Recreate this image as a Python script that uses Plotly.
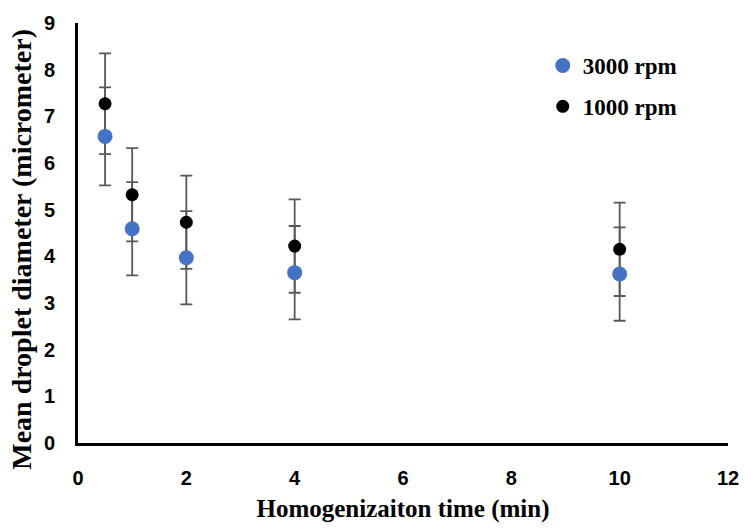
import plotly.graph_objects as go

time_min = [0.5, 1, 2, 4, 10]
d_3000 = [6.57, 4.59, 3.97, 3.65, 3.62]
err_3000 = [1.05, 1.0, 1.0, 1.0, 1.0]
d_1000 = [7.27, 5.32, 4.73, 4.22, 4.15]
err_1000 = [1.08, 1.0, 1.0, 1.0, 1.0]
x_ticks = [0, 2, 4, 6, 8, 10, 12]
y_ticks = [0, 1, 2, 3, 4, 5, 6, 7, 8, 9]

err_style = dict(type="data", visible=True, color="#595959", thickness=1.8, width=6)

fig = go.Figure()
# error bars first (under all markers)
for vals, errs in [(d_1000, err_1000), (d_3000, err_3000)]:
    fig.add_trace(go.Scatter(
        x=time_min, y=vals, mode="markers",
        marker=dict(color="rgba(0,0,0,0)", size=1),
        error_y=dict(array=errs, **err_style),
        showlegend=False, hoverinfo="skip"))

fig.add_trace(go.Scatter(
    x=time_min, y=d_1000, mode="markers", name="<b>1000 rpm</b>",
    marker=dict(color="#000000", size=13), legendrank=2, legendgroup="b"))
fig.add_trace(go.Scatter(
    x=time_min, y=d_3000, mode="markers", name="<b>3000 rpm</b>",
    marker=dict(color="#4472C4", size=15), legendrank=1, legendgroup="a"))

fig.update_layout(
    width=751, height=531,
    margin=dict(l=78, r=16, t=18, b=84),
    paper_bgcolor="white", plot_bgcolor="white",
    font=dict(family="Liberation Sans Narrow, Liberation Sans, Arial", size=20,
              color="#000000", weight="bold"),
    legend=dict(x=0.715, y=0.95, xanchor="left", yanchor="top",
                font=dict(family="Liberation Serif", size=23, color="#000000"),
                tracegroupgap=8, bgcolor="rgba(0,0,0,0)", itemwidth=30),
    xaxis=dict(range=[0, 12], tickvals=x_ticks,
               ticktext=[f"<b>{v}</b>" for v in x_ticks],
               showgrid=False, zeroline=False, showline=True, linecolor="#000000",
               linewidth=3, ticks="outside", ticklen=15, tickcolor="rgba(0,0,0,0)",
               title=dict(text="<b>Homogenizaiton time (min)</b>", standoff=12,
                          font=dict(family="Liberation Serif", size=25, color="#000000"))),
    yaxis=dict(range=[0, 9], tickvals=y_ticks,
               ticktext=[f"<b>{v}</b>" for v in y_ticks],
               showgrid=False, zeroline=False, showline=True, linecolor="#000000",
               linewidth=3, ticks="outside", ticklen=16, tickcolor="rgba(0,0,0,0)"),
    annotations=[dict(text="<b>Mean droplet diameter (micrometer)</b>", textangle=-90,
                      xref="paper", yref="paper", x=0, y=0.46, xanchor="center",
                      yanchor="middle", xshift=-56, showarrow=False,
                      font=dict(family="Liberation Serif", size=28, color="#000000"))],
)

fig.write_html("out.html")
